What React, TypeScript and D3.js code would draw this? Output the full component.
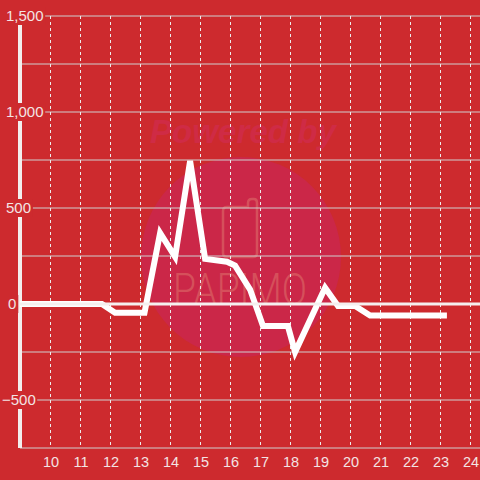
import React from "react";
import * as d3 from "d3";

const xTicks = [10, 11, 12, 13, 14, 15, 16, 17, 18, 19, 20, 21, 22, 23, 24];
const yTicks = [-500, 0, 500, 1000, 1500];
const yGrid = [-750, -500, -250, 0, 250, 500, 750, 1000, 1250, 1500];
const hours = [9.0, 11.73, 12.17, 13.15, 13.67, 14.17, 14.67, 15.17, 15.9, 16.17, 16.67, 17.1, 17.93, 18.17, 19.17, 19.6, 20.17, 20.67, 23.23];
const values = [0, 0, -45, -45, 370, 245, 745, 235, 220, 200, 75, -115, -115, -250, 85, -10, -10, -60, -60];

const W = 480;
const H = 480;

export default function App() {
  const x = d3.scaleLinear().domain([9, 24.333]).range([20, 480]);
  const y = d3.scaleLinear().domain([-750, 1500]).range([448, 16]);
  const pts: [number, number][] = hours.map((h, i) => [h, values[i]]);
  const line = d3
    .line<[number, number]>()
    .x((d) => x(d[0]))
    .y((d) => y(d[1]));
  const fmt = d3.format(",");
  const labelColor = "#F3E4E4";
  const font = "'Liberation Sans', Arial, sans-serif";
  const labelX = (v: number) => (v < 0 ? 2 : v === 0 ? 8 : 6);
  const wm = "#D5505B";

  return (
    <svg
      width={W}
      height={H}
      style={{ position: "absolute", left: 0, top: 0, display: "block" }}
    >
      <rect x={0} y={0} width={W} height={H} fill="#CD2A2E" />
      {/* watermark */}
      <circle cx={241} cy={257} r={100} fill="#CB2748" />
      <text
        x={150}
        y={143}
        fontFamily={font}
        fontWeight={700}
        fontStyle="italic"
        fontSize={33}
        textLength={186}
        lengthAdjust="spacingAndGlyphs"
        fill="#CF2B45"
      >
        Powered by
      </text>
      <path
        d="M227,207 H248 V203 Q248,199 252,199 H254 Q257,199 257,203 V253 Q257,257 253,257 H227 Q223,257 223,253 V211 Q223,207 227,207 Z"
        fill="none"
        stroke={wm}
        strokeWidth={2.5}
      />
      <text
        x={173}
        y={305}
        fontFamily="Roboto, 'DejaVu Sans', sans-serif"
        fontWeight={300}
        fontSize={44}
        textLength={134}
        lengthAdjust="spacingAndGlyphs"
        fill={wm}
      >
        PAPIMO
      </text>

      {/* horizontal grid */}
      {yGrid.map((v) =>
        v === 0 ? null : (
          <line key={"h" + v} x1={x(9)} x2={W} y1={y(v)} y2={y(v)} stroke="#CFCFCF" strokeWidth={1} />
        )
      )}
      {/* vertical dashed grid */}
      {xTicks.map((t) => (
        <line
          key={"v" + t}
          x1={x(t) + 0.5}
          x2={x(t) + 0.5}
          y1={y(1500)}
          y2={y(-750)}
          stroke="#EDEDED"
          strokeWidth={1}
          strokeDasharray="3,3"
        />
      ))}
      {/* y axis */}
      <line x1={x(9)} x2={x(9)} y1={24} y2={y(-750)} stroke="#F3EEEE" strokeWidth={4} />

      {/* series */}
      <path
        d={line(pts) || ""}
        fill="none"
        stroke="#FFFFFF"
        strokeWidth={6}
        strokeLinejoin="miter"
        strokeLinecap="butt"
      />
      {/* zero line */}
      <line x1={18} x2={W} y1={y(0)} y2={y(0)} stroke="#F5EFEF" strokeWidth={3} />

      {/* y labels with background */}
      {yTicks.map((v) => {
        const s = fmt(v);
        const w = s.replace(",", "").length * 8.3 + (s.includes(",") ? 4 : 0);
        const lx = labelX(v);
        return (
          <g key={"yl" + v}>
            <rect x={lx - 1} y={y(v) - 9} width={w + 3} height={18} fill="#CD2A2E" />
            <text
              x={lx}
              y={y(v)}
              dy="0.35em"
              fontFamily={font}
              fontSize={15}
              fill={labelColor}
            >
              {s}
            </text>
          </g>
        );
      })}
      {/* x labels */}
      {xTicks.map((t) => (
        <text
          key={"xl" + t}
          x={x(t) + 1}
          y={462}
          dy="0.35em"
          textAnchor="middle"
          fontFamily={font}
          fontSize={14.5}
          fill={labelColor}
        >
          {t}
        </text>
      ))}
    </svg>
  );
}
